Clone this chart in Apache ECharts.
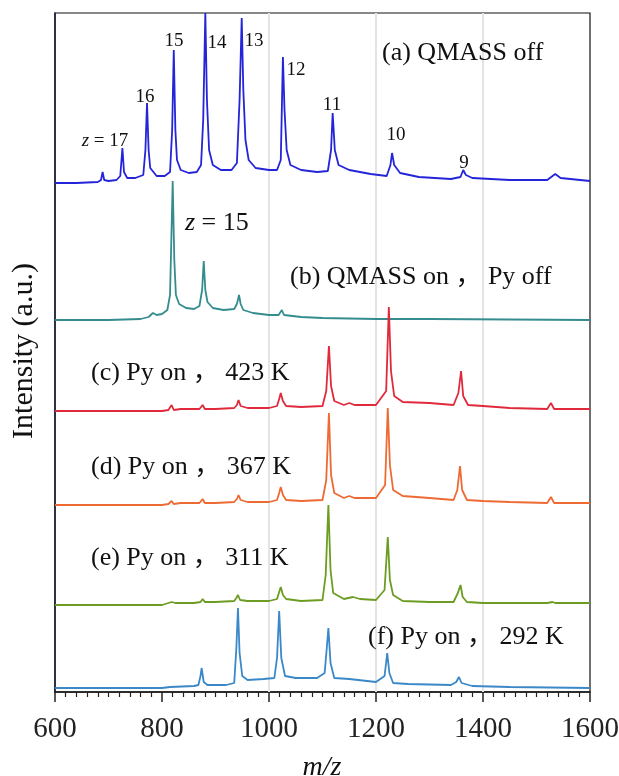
<!DOCTYPE html>
<html>
<head>
<meta charset="utf-8">
<script src="https://cdn.jsdelivr.net/npm/echarts@6/dist/echarts.min.js"></script>
<style>
html,body{margin:0;padding:0;background:#fff;}
#chart{width:619px;height:776px;}
</style>
</head>
<body>
<div id="chart"></div>
<script>
// m/z axis
const xTicks = [600, 800, 1000, 1200, 1400, 1600];
const gridLines = [1000, 1200, 1400];

// vertical offsets (a.u.) of each stacked spectrum
const offsets = { a: 509, b: 372, c: 281, d: 187, e: 87, f: 4 };
const yRange = [0, 679];

// spectra: [m/z, intensity above own baseline (a.u.)]
const specA = [[600,0],[640,0],[680,1],[686,3],[689,11],[692,3],[700,2],[715,3],[722,7],[726,35],[729,11],[735,5],[750,5],[765,8],[769,33],[772,80],[775,33],[778,15],[790,7],[805,7],[815,11],[819,53],[822,133],[825,53],[828,23],[835,13],[850,10],[865,11],[873,18],[877,63],[881,170],[884,83],[888,33],[895,18],[910,13],[930,13],[940,20],[945,83],[949,165],[952,93],[956,43],[962,23],[975,15],[1000,13],[1015,13],[1022,23],[1026,126],[1029,73],[1033,33],[1040,18],[1060,13],[1090,11],[1110,12],[1116,33],[1119,70],[1123,33],[1130,18],[1150,13],[1190,9],[1220,7],[1227,18],[1230,30],[1234,18],[1245,10],[1280,6],[1340,4],[1358,6],[1363,13],[1368,8],[1380,5],[1450,3],[1520,3],[1535,9],[1545,5],[1600,2]];
const specB = [[600,0],[700,0],[760,1],[775,3],[783,7],[790,5],[800,6],[810,10],[815,25],[820,139],[823,60],[826,25],[832,16],[845,12],[860,11],[870,14],[875,30],[878,59],[881,30],[885,18],[895,12],[915,10],[935,11],[940,16],[944,25],[947,16],[952,10],[970,7],[1000,5],[1018,5],[1024,10],[1028,5],[1060,3],[1100,2],[1200,1],[1300,1],[1600,0]];
const specC = [[600,0],[800,0],[812,1],[818,6],[822,1],[835,2],[870,2],[876,6],[880,2],[900,2],[935,3],[940,6],[943,11],[947,5],[960,3],[1000,3],[1015,5],[1019,12],[1022,18],[1026,10],[1032,5],[1060,4],[1100,5],[1107,20],[1112,65],[1116,25],[1122,10],[1140,6],[1150,8],[1160,6],[1200,6],[1219,20],[1224,104],[1228,40],[1234,15],[1250,9],[1300,8],[1345,6],[1354,18],[1359,40],[1363,15],[1372,6],[1400,5],[1450,3],[1520,2],[1527,8],[1533,2],[1600,2]];
const specD = [[600,0],[800,0],[812,1],[818,4],[822,1],[835,2],[870,2],[876,6],[880,2],[900,2],[935,3],[940,6],[943,10],[947,5],[960,3],[1000,3],[1015,5],[1019,12],[1022,18],[1026,10],[1032,5],[1060,4],[1100,5],[1107,25],[1112,92],[1116,30],[1122,12],[1140,7],[1150,9],[1160,7],[1200,7],[1217,20],[1222,97],[1226,40],[1232,15],[1250,9],[1300,7],[1345,5],[1352,15],[1357,39],[1361,15],[1370,5],[1400,4],[1450,3],[1520,2],[1527,8],[1533,2],[1600,2]];
const specE = [[600,0],[800,0],[812,2],[818,3],[825,2],[860,2],[872,3],[876,6],[880,3],[900,3],[935,4],[939,7],[942,10],[946,5],[960,4],[1000,4],[1015,6],[1019,13],[1022,18],[1026,10],[1032,6],[1060,4],[1100,5],[1106,30],[1111,100],[1115,35],[1120,12],[1140,6],[1157,8],[1170,6],[1200,5],[1216,15],[1222,68],[1226,25],[1232,10],[1250,4],[1300,3],[1345,3],[1353,12],[1358,20],[1362,8],[1370,3],[1400,2],[1450,2],[1520,2],[1530,3],[1535,2],[1600,2]];
const specF = [[600,0],[800,0],[815,1],[860,2],[868,3],[872,12],[874,20],[878,6],[885,3],[920,3],[935,5],[939,40],[942,80],[945,35],[950,12],[960,8],[990,9],[1010,10],[1015,30],[1019,77],[1023,30],[1030,12],[1050,10],[1090,10],[1104,15],[1108,40],[1111,60],[1115,25],[1122,10],[1150,9],[1200,6],[1216,12],[1221,35],[1225,15],[1232,5],[1260,4],[1340,3],[1350,6],[1355,11],[1360,5],[1380,2],[1450,1],[1600,0]];

const spectra = [
  { key: 'a', data: specA, color: '#2424d8' },
  { key: 'b', data: specB, color: '#358c8e' },
  { key: 'c', data: specC, color: '#e02a3c' },
  { key: 'd', data: specD, color: '#ee6a33' },
  { key: 'e', data: specE, color: '#6c9c22' },
  { key: 'f', data: specF, color: '#3a88c8' }
];

const chargeLabels = ['z = 17', '16', '15', '14', '13', '12', '11', '10', '9'];
const panelLabels = ['(a) QMASS off', '(b) QMASS on \uFF0C Py off', '(c) Py on \uFF0C 423 K', '(d) Py on \uFF0C 367 K', '(e) Py on \uFF0C 311 K', '(f) Py on \uFF0C 292 K'];

const serif = '"Liberation Serif", "Times New Roman", "Noto Sans CJK SC", serif';

const chart = echarts.init(document.getElementById('chart'), null, { renderer: 'canvas' });

const series = spectra.map((s, i) => ({
  type: 'line',
  name: s.key,
  data: s.data.map(p => [p[0], p[1] + offsets[s.key]]),
  showSymbol: false,
  symbol: 'none',
  smooth: false,
  lineStyle: { color: s.color, width: 1.8 },
  z: 3,
  animation: false,
  markLine: i === 0 ? {
    silent: true,
    symbol: 'none',
    label: { show: false },
    lineStyle: { color: '#e4e4e4', width: 2, type: 'solid' },
    data: gridLines.map(v => ({ xAxis: v })),
    z: 1,
    animation: false
  } : undefined
}));

function txt(text, x, y, size, align, extra) {
  return Object.assign({
    type: 'text',
    x: x, y: y,
    z: 10,
    style: {
      text: text,
      x: 0, y: 0,
      fill: '#111',
      fontFamily: serif,
      fontSize: size,
      align: align || 'center',
      verticalAlign: 'middle',
      rich: { i: { fontStyle: 'italic', fontFamily: serif, fontSize: size, fill: '#111' } }
    }
  }, extra || {});
}

const chargePos = [[105,141],[145,97],[174,41],[217,43],[254,41],[296,70],[332,105],[396,135],[464,163]];
const graphics = [];
chargeLabels.forEach((t, i) => {
  const label = t.startsWith('z') ? '{i|z}' + t.slice(1) : t;
  graphics.push(txt(label, chargePos[i][0], chargePos[i][1], 19, 'center'));
});
graphics.push(txt('{i|z} = 15', 185, 223, 26, 'left'));
const panelPos = [[382,53],[290,277],[91,373],[91,467],[91,558],[368,637]];
panelLabels.forEach((t, i) => {
  graphics.push(txt(t, panelPos[i][0], panelPos[i][1], 26, 'left'));
});
graphics.push(txt('{i|m/z}', 322, 768, 28, 'center'));
graphics.push(txt('Intensity (a.u.)', 24, 351, 30, 'center', { rotation: Math.PI / 2 }));

chart.setOption({
  animation: false,
  backgroundColor: '#fff',
  grid: { left: 55, right: 29, top: 13, bottom: 84, show: true, borderColor: '#111', borderWidth: 1.2, containLabel: false, outerBoundsMode: 'none' },
  xAxis: {
    type: 'value',
    min: xTicks[0],
    max: xTicks[xTicks.length - 1],
    interval: 200,
    axisLine: { show: true, lineStyle: { color: '#111', width: 1.5 } },
    axisTick: { show: true, inside: false, length: 10, lineStyle: { color: '#222', width: 1.5 } },
    minorTick: { show: true, splitNumber: 10, length: 5, lineStyle: { color: '#222', width: 1.2 } },
    splitLine: { show: false },
    axisLabel: { fontSize: 29, fontFamily: serif, color: '#222', margin: 23, showMinLabel: true, showMaxLabel: true, hideOverlap: false, formatter: v => String(v) }
  },
  yAxis: {
    type: 'value',
    min: yRange[0],
    max: yRange[1],
    axisLine: { show: true, lineStyle: { color: '#1a1a3a', width: 1.5 } },
    axisTick: { show: false },
    axisLabel: { show: false },
    splitLine: { show: false }
  },
  series: series,
  graphic: graphics
});
</script>
</body>
</html>
